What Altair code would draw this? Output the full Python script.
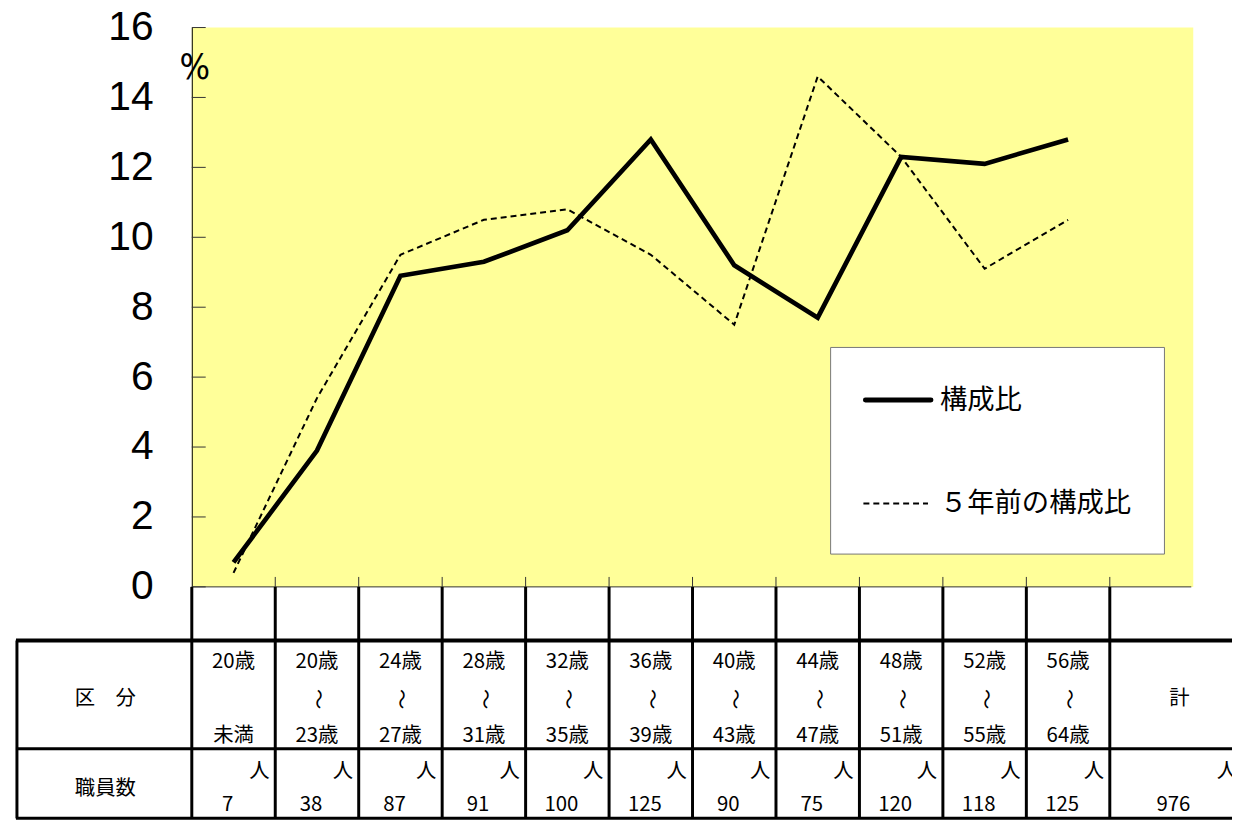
import altair as alt
import pandas as pd

# ---------------- data ----------------
age_top = ["20歳", "20歳", "24歳", "28歳", "32歳", "36歳", "40歳", "44歳", "48歳", "52歳", "56歳"]
age_mid = ["", "〜", "〜", "〜", "〜", "〜", "〜", "〜", "〜", "〜", "〜"]
age_bottom = ["未満", "23歳", "27歳", "31歳", "35歳", "39歳", "43歳", "47歳", "51歳", "55歳", "64歳"]
staff = [7, 38, 87, 91, 100, 125, 90, 75, 120, 118, 125]
ratio_now = [0.7, 3.9, 8.9, 9.3, 10.2, 12.8, 9.2, 7.7, 12.3, 12.1, 12.8]
ratio_5y = [0.4, 5.4, 9.5, 10.5, 10.8, 9.5, 7.5, 14.6, 12.3, 9.1, 10.5]
total_label = ["計"]
total_staff = [976]
row_headers = ["区　分", "職員数"]
series_names = ["構成比", "５年前の構成比"]
unit_label = "人"
pct_label = "%"
y_ticks = [0, 2, 4, 6, 8, 10, 12, 14, 16]

# ---------------- layout ----------------
W, H = 1008, 563
FONT = "Noto Sans CJK JP"

df = pd.DataFrame({
    "idx": list(range(len(age_top))),
    "top": age_top, "mid": age_mid, "bottom": age_bottom,
    "staff": staff, "now": ratio_now, "prev": ratio_5y,
})
df_cols = pd.DataFrame({"idx": list(range(len(age_top) + 1))})
df_tot = pd.DataFrame({"idx": [len(age_top)], "label": total_label, "staff": total_staff})
one = pd.DataFrame({"a": [0]})

xs = alt.Scale(domain=[-0.5, 11.5], nice=False, zero=False)
ys = alt.Scale(domain=[0, 16], nice=False, zero=True)
X = lambda f: alt.X(f, type="quantitative", scale=xs, axis=None)

yaxis = alt.Axis(values=y_ticks, ticks=False, tickSize=0, grid=False, title=None,
                 labelFont="Liberation Sans", labelFontSize=41, labelColor="black",
                 labelPadding=39, domainColor="black", domainWidth=1)

base = alt.Chart(df)

line_now = base.mark_line(color="black", strokeWidth=4.7).encode(
    x=X("idx"), y=alt.Y("now:Q", scale=ys, axis=yaxis))
line_prev = base.mark_line(color="black", strokeWidth=2, strokeDash=[6, 4]).encode(
    x=X("idx"), y=alt.Y("prev:Q", scale=ys))

yticks = alt.Chart(pd.DataFrame({"v": y_ticks})).mark_rule(color="#333", strokeWidth=1).encode(
    y=alt.Y("v:Q", scale=ys), x=alt.value(0), x2=alt.value(14))

xline = alt.Chart(one).mark_rule(color="#333", strokeWidth=1).encode(
    x=alt.value(0), x2=alt.value(W - 2), y=alt.value(H))

cols = alt.Chart(df_cols).transform_calculate(b="datum.idx - 0.5")
xticks = cols.transform_filter("datum.idx > 0").mark_rule(color="#333", strokeWidth=1).encode(
    x=X("b"), y=alt.value(H - 10), y2=alt.value(H))
vlines = cols.mark_rule(color="black", strokeWidth=3).encode(
    x=X("b"), y=alt.value(H), y2=alt.value(796))

hline_top = alt.Chart(one).mark_rule(color="black", strokeWidth=4).encode(
    x=alt.value(-177), x2=alt.value(1060), y=alt.value(617))
hline_mid = alt.Chart(one).mark_rule(color="black", strokeWidth=3).encode(
    x=alt.value(-177), x2=alt.value(1060), y=alt.value(726))
hline_bot = alt.Chart(one).mark_rule(color="black", strokeWidth=3).encode(
    x=alt.value(-177), x2=alt.value(1060), y=alt.value(796))
vline_left = alt.Chart(one).mark_rule(color="black", strokeWidth=3).encode(
    x=alt.value(-176), y=alt.value(617), y2=alt.value(796))

txt = dict(font=FONT, fontSize=20.5, color="black")
t_top = base.mark_text(**txt).encode(x=X("idx"), y=alt.value(639), text="top:N")
t_mid = base.mark_text(angle=90, **txt).encode(x=X("idx"), y=alt.value(676), text="mid:N")
t_bot = base.mark_text(**txt).encode(x=X("idx"), y=alt.value(713), text="bottom:N")
t_unit = base.transform_calculate(e="datum.idx + 0.5", u=f"'{unit_label}'").mark_text(dx=-16, **txt).encode(
    x=X("e"), y=alt.value(749), text="u:N")
t_staff = base.mark_text(dx=-6, **txt).encode(x=X("idx"), y=alt.value(783), text="staff:Q")

tot = alt.Chart(df_tot)
t_tot_label = tot.mark_text(dx=28, **txt).encode(x=X("idx"), y=alt.value(676), text="label:N")
t_tot_staff = tot.mark_text(dx=22, **txt).encode(x=X("idx"), y=alt.value(783), text="staff:Q")
t_tot_unit = tot.transform_calculate(e="datum.idx + 0.5", u=f"'{unit_label}'").mark_text(dx=34, **txt).encode(
    x=X("e"), y=alt.value(749), text="u:N")

hdr = alt.Chart(pd.DataFrame({"h": row_headers, "yy": [676, 766]})).mark_text(**txt).encode(
    x=alt.value(-87), y=alt.Y("yy:Q", scale=None), text="h:N")

pct = alt.Chart(one).mark_text(font="DejaVu Sans Condensed", fontSize=36, color="black").encode(
    x=alt.value(3), y=alt.value(41), text=alt.value(pct_label))

leg_box = alt.Chart(one).mark_rect(fill="white", stroke="#777", strokeWidth=1).encode(
    x=alt.value(643), x2=alt.value(979), y=alt.value(322), y2=alt.value(530))
leg_l1 = alt.Chart(one).mark_rule(color="black", strokeWidth=5, strokeCap="round").encode(
    x=alt.value(678), x2=alt.value(744), y=alt.value(375))
leg_l2 = alt.Chart(one).mark_rule(color="black", strokeWidth=2, strokeDash=[6, 4]).encode(
    x=alt.value(676), x2=alt.value(741), y=alt.value(479))
leg_t = alt.Chart(pd.DataFrame({"s": series_names, "yy": [376, 480]})).mark_text(
    font=FONT, fontSize=27.5, color="black", align="left").encode(
    x=alt.value(753), y=alt.Y("yy:Q", scale=None), text="s:N")

chart = alt.layer(
    line_prev, line_now, yticks, xline, xticks, vlines,
    hline_top, hline_mid, hline_bot, vline_left,
    t_top, t_mid, t_bot, t_unit, t_staff, t_tot_label, t_tot_staff, t_tot_unit, hdr,
    pct, leg_box, leg_l1, leg_l2, leg_t,
).properties(
    width=W, height=H,
    autosize=alt.AutoSizeParams(type="none"),
    padding={"left": 185, "top": 17, "right": 39, "bottom": 234},
).configure_view(fill="#FFFF99", strokeWidth=0)

chart.save("out.html", embed_options={"renderer": "svg", "actions": False})
